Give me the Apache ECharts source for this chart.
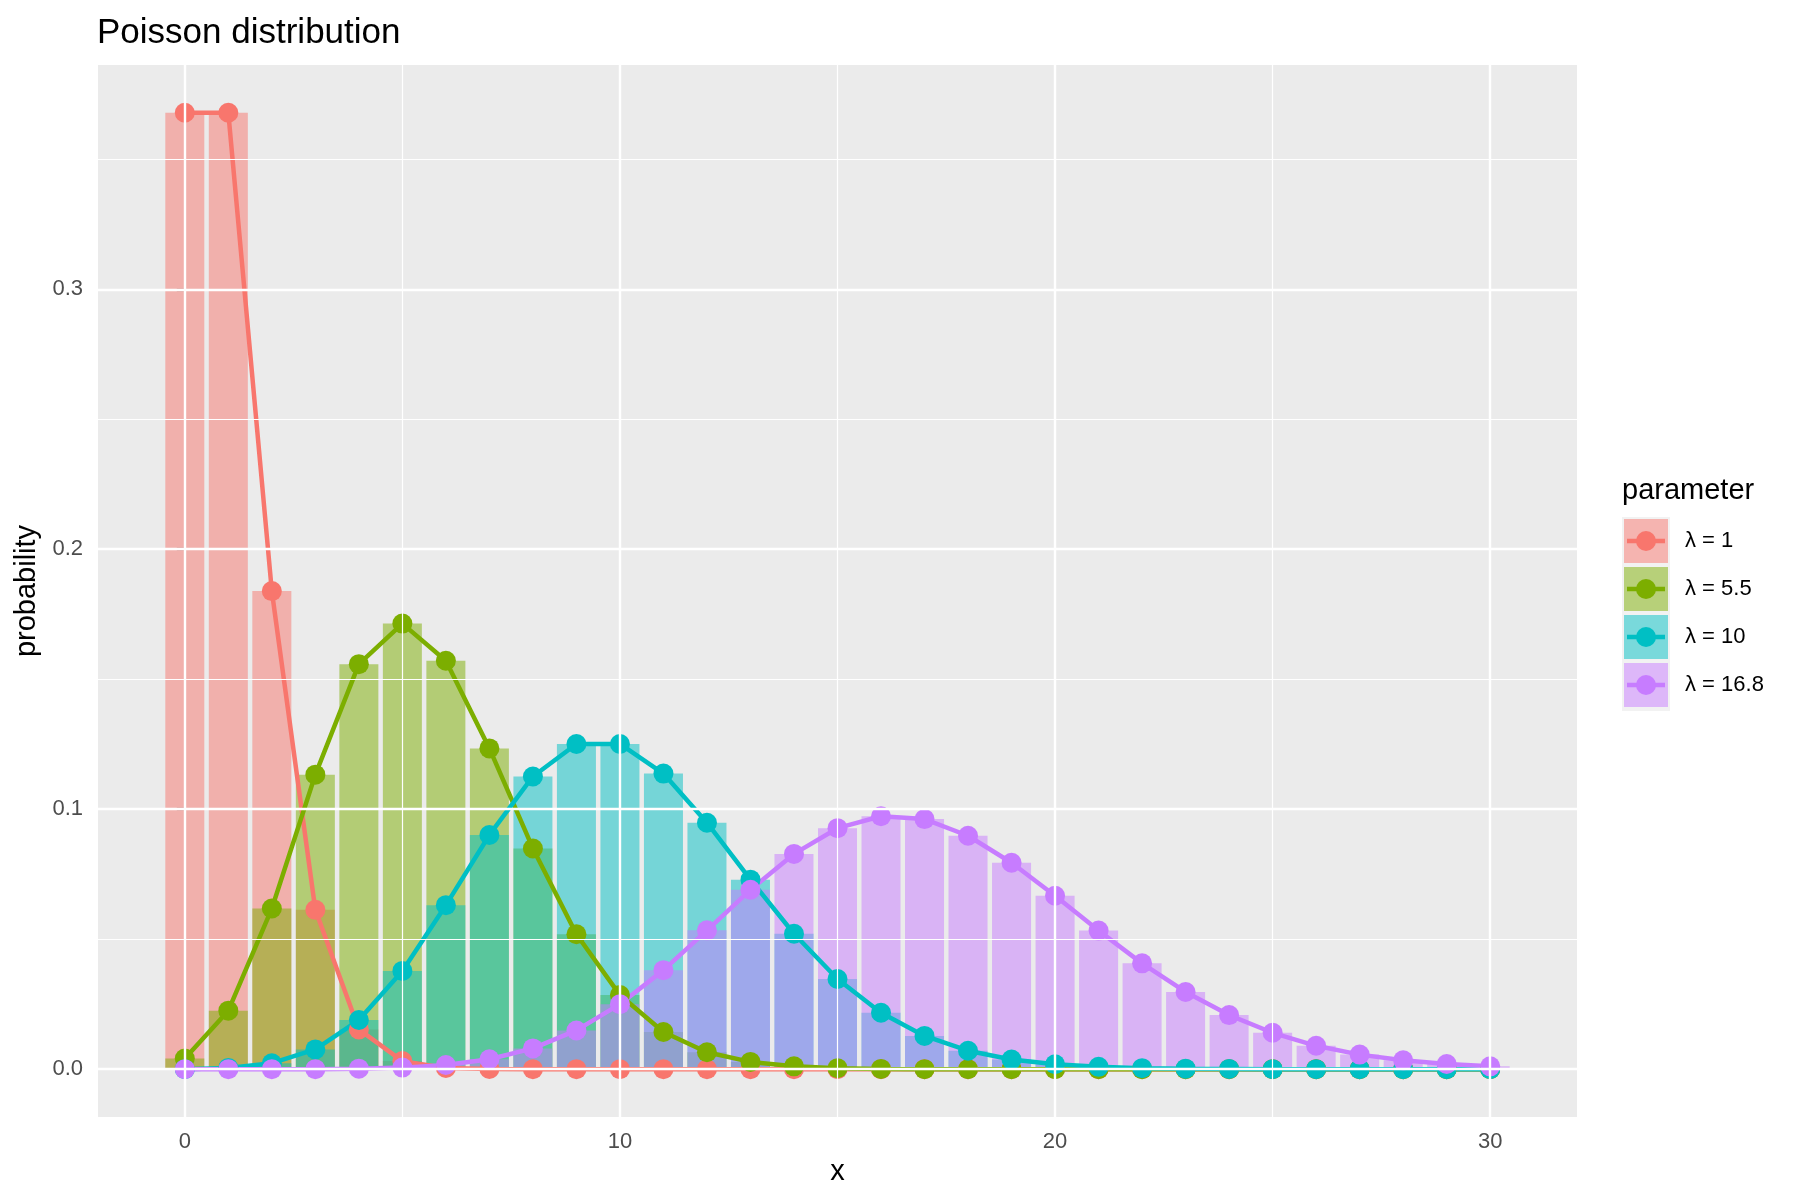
<!DOCTYPE html>
<html>
<head>
<meta charset="utf-8">
<title>Poisson distribution</title>
<script src="https://cdn.jsdelivr.net/npm/echarts@6/dist/echarts.min.js"></script>
<style>
  html, body { margin: 0; padding: 0; background: #fff; }
  #chart { width: 1800px; height: 1200px; }
</style>
</head>
<body>
<div id="chart"></div>
<script>
// x values and tick labels
var xValues = [0, 1, 2, 3, 4, 5, 6, 7, 8, 9, 10, 11, 12, 13, 14, 15, 16, 17, 18, 19, 20,
               21, 22, 23, 24, 25, 26, 27, 28, 29, 30];
var xTicks = [0, 10, 20, 30];
var xMinorGrid = [5, 15, 25];
var yTicks = [0, 0.1, 0.2, 0.3];
var yMinorGrid = [0.05, 0.15, 0.25, 0.35];

// legend labels
var seriesNames = ['λ = 1', 'λ = 5.5', 'λ = 10', 'λ = 16.8'];

// probabilities
var probLambda1 = [0.3679, 0.3679, 0.1839, 0.0613, 0.0153, 0.0031, 0.0005, 0.0001, 0, 0, 0,
                   0, 0, 0, 0, 0, 0, 0, 0, 0, 0,
                   0, 0, 0, 0, 0, 0, 0, 0, 0, 0];
var probLambda55 = [0.0041, 0.0225, 0.0618, 0.1133, 0.1558, 0.1714, 0.1571, 0.1234, 0.0849, 0.0519, 0.0285,
                    0.0143, 0.0065, 0.0028, 0.0011, 0.0004, 0.0001, 0, 0, 0, 0,
                    0, 0, 0, 0, 0, 0, 0, 0, 0, 0];
var probLambda10 = [0.0000, 0.0005, 0.0023, 0.0076, 0.0189, 0.0378, 0.0631, 0.0901, 0.1126, 0.1251, 0.1251,
                    0.1137, 0.0948, 0.0729, 0.0521, 0.0347, 0.0217, 0.0128, 0.0071, 0.0037, 0.0019,
                    0.0009, 0.0004, 0.0002, 0.0001, 0, 0, 0, 0, 0, 0];
var probLambda168 = [0, 0, 0, 0, 0.0002, 0.0006, 0.0016, 0.0038, 0.0080, 0.0149, 0.0250,
                     0.0381, 0.0534, 0.0690, 0.0828, 0.0927, 0.0973, 0.0962, 0.0898, 0.0794, 0.0667,
                     0.0533, 0.0407, 0.0297, 0.0208, 0.0140, 0.0090, 0.0056, 0.0034, 0.0020, 0.0011];

var allProbs = [probLambda1, probLambda55, probLambda10, probLambda168];
var colors = ['#F8766D', '#7CAE00', '#00BFC4', '#C77CFF'];
var fontFamily = "'Liberation Sans', Arial, sans-serif";

var chart = echarts.init(document.getElementById('chart'));

function pairs(ys) {
    return xValues.map(function (x, i) { return [x, ys[i]]; });
}

// white panel grid lines (major + minor), drawn under the bars
var gridLines = [];
xTicks.forEach(function (v) { gridLines.push({ xAxis: v, lineStyle: { width: 2.4 } }); });
xMinorGrid.forEach(function (v) { gridLines.push({ xAxis: v, lineStyle: { width: 1.2 } }); });
yTicks.forEach(function (v) { gridLines.push({ yAxis: v, lineStyle: { width: 2.4 } }); });
yMinorGrid.forEach(function (v) { gridLines.push({ yAxis: v, lineStyle: { width: 1.2 } }); });

var series = [{
    type: 'line',
    data: [],
    z: 1,
    silent: true,
    markLine: {
        silent: true,
        symbol: ['none', 'none'],
        label: { show: false },
        emphasis: { disabled: true },
        lineStyle: { color: '#FFFFFF', type: 'solid' },
        animation: false,
        data: gridLines
    }
}];

// bars
allProbs.forEach(function (ys, i) {
    series.push({
        name: seriesNames[i],
        type: 'bar',
        data: pairs(ys),
        barWidth: 39,
        barGap: '-100%',
        z: 2,
        itemStyle: { color: colors[i], opacity: 0.5 },
        emphasis: { disabled: true }
    });
});
// lines
allProbs.forEach(function (ys, i) {
    series.push({
        name: seriesNames[i],
        type: 'line',
        data: pairs(ys),
        showSymbol: false,
        z: 3,
        lineStyle: { color: colors[i], width: 4.5 },
        itemStyle: { color: colors[i] },
        emphasis: { disabled: true }
    });
});
// points
allProbs.forEach(function (ys, i) {
    series.push({
        name: seriesNames[i],
        type: 'scatter',
        data: pairs(ys),
        symbolSize: 20,
        z: 4,
        itemStyle: { color: colors[i], opacity: 1 },
        emphasis: { disabled: true }
    });
});

// line + dot drawn over each legend key
var keyMarks = [];
seriesNames.forEach(function (n, i) {
    var cy = 541 + i * 48;
    keyMarks.push({
        type: 'line', z: 10, silent: true,
        shape: { x1: 1627, y1: cy, x2: 1665, y2: cy },
        style: { stroke: colors[i], lineWidth: 4.5 }
    });
    keyMarks.push({
        type: 'circle', z: 10, silent: true,
        shape: { cx: 1646, cy: cy, r: 10 },
        style: { fill: colors[i] }
    });
});

var option = {
    animation: false,
    backgroundColor: '#FFFFFF',
    textStyle: { fontFamily: fontFamily },
    title: [{
        text: 'Poisson distribution',
        left: 97,
        top: 16,
        padding: 0,
        textStyle: { fontSize: 35, fontWeight: 'normal', color: '#000000', fontFamily: fontFamily }
    }, {
        text: 'parameter',
        left: 1622,
        top: 476,
        padding: 0,
        textStyle: { fontSize: 29, fontWeight: 'normal', color: '#000000', fontFamily: fontFamily }
    }],
    tooltip: { trigger: 'item', formatter: function (p) { return p.seriesName + '<br/>x = ' + p.value[0] + ': ' + p.value[1]; } },
    legend: {
        orient: 'vertical',
        left: 1624,
        top: 519,
        padding: 0,
        itemWidth: 44,
        itemHeight: 44,
        itemGap: 4,
        icon: 'rect',
        data: seriesNames.map(function (n, i) {
            return { name: n, icon: 'rect', itemStyle: { color: colors[i], opacity: 0.5 } };
        }),
        textStyle: { fontSize: 22, color: '#000000', fontFamily: fontFamily, padding: [0, 0, 0, 12] }
    },
    grid: {
        left: 98,
        top: 65,
        width: 1479,
        height: 1052,
        show: true,
        backgroundColor: '#EBEBEB',
        borderWidth: 0,
        containLabel: false
    },
    xAxis: {
        type: 'value',
        min: -1.995,
        max: 31.995,
        name: 'x',
        nameLocation: 'middle',
        nameGap: 38,
        nameTextStyle: { fontSize: 29, color: '#000000', fontFamily: fontFamily },
        axisLine: { show: false },
        splitLine: { show: false },
        axisTick: { show: true, customValues: xTicks, length: 8, lineStyle: { color: '#333333', width: 2.4 } },
        axisLabel: { customValues: xTicks, margin: 14, fontSize: 22, color: '#4D4D4D', fontFamily: fontFamily }
    },
    yAxis: {
        type: 'value',
        min: -0.018394,
        max: 0.386271,
        name: 'probability',
        nameLocation: 'middle',
        nameGap: 45,
        nameTextStyle: { fontSize: 29, color: '#000000', fontFamily: fontFamily },
        axisLine: { show: false },
        splitLine: { show: false },
        axisTick: { show: true, customValues: yTicks, length: 8, lineStyle: { color: '#333333', width: 2.4 } },
        axisLabel: {
            customValues: yTicks, margin: 15, fontSize: 22, color: '#4D4D4D', fontFamily: fontFamily,
            formatter: function (v) { return v.toFixed(1); }
        }
    },
    graphic: [{
        type: 'rect', z: 0, silent: true,
        shape: { x: 1622, y: 517, width: 48, height: 194 },
        style: { fill: '#F2F2F2' }
    }].concat(keyMarks),
    series: series
};

chart.setOption(option);
</script>
</body>
</html>
